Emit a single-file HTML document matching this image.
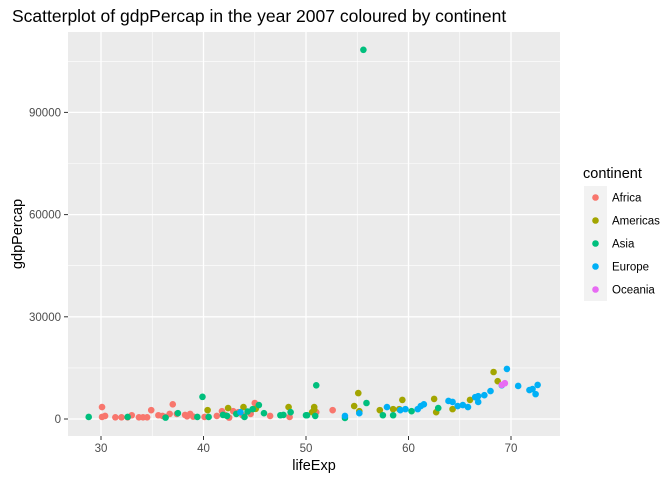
<!DOCTYPE html>
<html><head><meta charset="utf-8"><style>
body{margin:0;background:#fff;font-family:"Liberation Sans",sans-serif}
</style></head><body>
<svg id="chart" width="672" height="480" xmlns="http://www.w3.org/2000/svg">
<text x="12" y="22" font-size="17.5" fill="#000">Scatterplot of gdpPercap in the year 2007 coloured by continent</text>
<rect x="68" y="32" width="492" height="404" fill="#ebebeb"/>
<g id="grid"></g><g id="axes"></g><g id="pts"></g>
<text x="314" y="470" font-size="14.5" text-anchor="middle">lifeExp</text>
<text transform="translate(22,234) rotate(-90)" font-size="14.5" text-anchor="middle">gdpPercap</text>
<g>
<text x="583" y="178" font-size="14.5">continent</text>
<g id="leg"></g>
</g>
</svg>
<script>
const continents=["Africa","Americas","Asia","Europe","Oceania"];
const colors=["#F8766D","#A3A500","#00BF7D","#00B0F6","#E76BF3"];
const africaX=[30.1,30.1,30.4,31.4,32,32.6,33,33.7,34.1,34.5,34.9,35.6,36.3,36.7,37,37.4,38.2,38.7,38.4,40.1,41.3,41.8,42.1,42.5,42.9,43.4,44.6,45,46.5,48.4,51,52.6,36,39,43.8];
const africaY=[3500,600,900,500,500,500,1100,500,500,500,2600,1100,600,1500,4300,1500,1200,1500,800,600,900,2300,1200,400,2300,2000,1500,4700,900,600,2000,2600,900,700,1100];
const americasX=[40.4,42.4,43.9,48.3,50.8,50.6,55.1,54.7,55.2,57.2,58.5,59.1,59.4,62.5,62.7,64.3,66,68.3,68.7,45.1,50.8];
const americasY=[2600,3200,3500,3500,3500,2000,7600,3800,2300,2600,2900,2900,5600,5900,2000,2900,5600,13800,11100,3000,2800];
const asiaX=[28.8,32.6,36.3,37.5,39.4,39.9,40.5,42.3,43.2,44,44.8,45.4,45.9,47.5,47.8,48.5,50.1,51,50.9,50,55.9,57.5,58.5,60.3,62.9,55.6,41.9,44.3,53.8];
const asiaY=[600,600,400,1700,600,6500,600,900,1500,600,2900,4100,1700,1100,1200,2000,1100,9900,900,1100,4700,1100,1100,2300,3200,108382,1200,2200,300];
const europeX=[43.6,53.8,55.2,57.9,59.2,59.7,60.9,61.2,63.9,64.3,64.8,65.3,65.8,66.5,66.8,66.8,67.4,68,69.1,69.6,70.7,71.8,72.1,72.4,72.6,61.5];
const europeY=[2000,900,1700,3500,2600,2900,2900,3800,5300,5000,3800,4100,3500,6400,6700,5000,7000,8200,9900,14700,9700,8500,8800,7300,10000,4300];
const oceaniaX=[69.1,69.4];
const oceaniaY=[10000,10500];
const xTicks=[30,40,50,60,70];
const yTicks=[0,30000,60000,90000];
const yTickLabels=["0","30000","60000","90000"];
const NS="http://www.w3.org/2000/svg";
const sx=v=>101+(v-30)*10.25;
const sy=v=>419-v*102.2/30000;
function mk(tag,attrs,parent){const e=document.createElementNS(NS,tag);for(const k in attrs)e.setAttribute(k,attrs[k]);parent.appendChild(e);return e;}
const grid=document.getElementById('grid'),axes=document.getElementById('axes'),pts=document.getElementById('pts'),leg=document.getElementById('leg');
for(let i=0;i<xTicks.length;i++){
 const m=sx(xTicks[i]-5);
 if(m>68){const l=mk('line',{x1:m,x2:m,y1:32,y2:436,stroke:'#fff','stroke-width':0.6},grid);}
 const x=sx(xTicks[i]);
 const g=mk('line',{x1:x,x2:x,y1:32,y2:436,stroke:'#fff','stroke-width':1.3},grid);
 
 mk('line',{x1:x,x2:x,y1:436,y2:440,stroke:'#333'},axes);
 const t=mk('text',{x:x,y:452,'font-size':11.5,'text-anchor':'middle',fill:'#4d4d4d'},axes);t.textContent=xTicks[i];
 
}
{const m=sx(75);const l=mk('line',{x1:m,x2:m,y1:32,y2:436,stroke:'#fff','stroke-width':0.6},grid);}
for(let i=0;i<yTicks.length;i++){
 const y=sy(yTicks[i]);
 const m=sy(yTicks[i]+15000);
 const lm=mk('line',{x1:68,x2:560,y1:m,y2:m,stroke:'#fff','stroke-width':0.6},grid);
 
 const g=mk('line',{x1:68,x2:560,y1:y,y2:y,stroke:'#fff','stroke-width':1.3},grid);
 
 mk('line',{x1:64,x2:68,y1:y,y2:y,stroke:'#333'},axes);
 const t=mk('text',{x:61,y:y+4,'font-size':11.5,'text-anchor':'end',fill:'#4d4d4d'},axes);t.textContent=yTickLabels[i];
 
}
const series=[[africaX,africaY],[americasX,americasY],[asiaX,asiaY],[europeX,europeY],[oceaniaX,oceaniaY]];
series.forEach((s,k)=>{for(let i=0;i<s[0].length;i++){
 const c=mk('circle',{cx:sx(s[0][i]),cy:sy(s[1][i]),r:3.3,fill:colors[k]},pts);
 
 
}});
continents.forEach((c,k)=>{
 const y=186+k*23;
 const r=mk('rect',{x:584,y:y,width:23,height:23,fill:'#f2f2f2'},leg);
 
 mk('circle',{cx:595.5,cy:y+11.5,r:3.3,fill:colors[k]},leg);
 const t=mk('text',{x:612,y:y+15.5,'font-size':11.5,fill:'#000'},leg);t.textContent=c;
 
});
</script>
</body></html>
